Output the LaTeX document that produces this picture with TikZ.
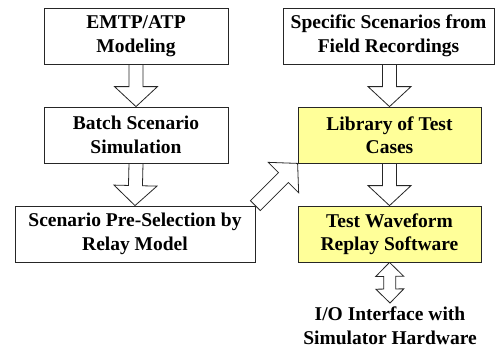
\documentclass[tikz,border=0pt]{standalone}
\usepackage{fontspec}
\setmainfont{Liberation Serif}
\usetikzlibrary{calc,backgrounds}

\definecolor{boxyellow}{RGB}{255,255,153}

% block arrow sizes
\def\basw{7pt}   % half shaft width
\def\bahw{21.5pt}% half head width
\def\bahl{20pt}  % head length
\def\dasw{6pt}
\def\dahw{14pt}
\def\dahl{14pt}

% single block arrow from #1 (tail) to #2 (tip)
\newcommand\blkarrow[2]{%
  \coordinate (ba-h) at ($(#2)!\bahl!(#1)$);
  \draw[blockarrow] ($(#1)!\basw!90:(#2)$) -- ($(ba-h)!\basw!90:(#2)$)
    -- ($(ba-h)!\bahw!90:(#2)$) -- (#2) -- ($(ba-h)!\bahw!-90:(#2)$)
    -- ($(ba-h)!\basw!-90:(#2)$) -- ($(#1)!\basw!-90:(#2)$) -- cycle;
}
% double-headed block arrow between #1 and #2
\newcommand\dblarrow[2]{%
  \coordinate (da-a) at ($(#1)!\dahl!(#2)$);
  \coordinate (da-b) at ($(#2)!\dahl!(#1)$);
  \draw[blockarrow] (#1) -- ($(da-a)!\dahw!90:(#2)$) -- ($(da-a)!\dasw!90:(#2)$)
    -- ($(da-b)!\dasw!90:(#2)$) -- ($(da-b)!\dahw!90:(#2)$) -- (#2)
    -- ($(da-b)!\dahw!-90:(#2)$) -- ($(da-b)!\dasw!-90:(#2)$)
    -- ($(da-a)!\dasw!-90:(#2)$) -- ($(da-a)!\dahw!-90:(#2)$) -- cycle;
}

\tikzset{
  labelfont/.style={font=\fontsize{19.5}{23.5}\selectfont\bfseries},
  blockarrow/.style={draw=black!85, line width=0.8pt, fill=white, line join=miter},
  stage/.style={draw=black!85, line width=0.8pt, fill=white, minimum height=56pt,
    inner sep=0pt, align=center, labelfont},
  hilite/.style={stage, fill=boxyellow},
}

\begin{document}
\begin{tikzpicture}[x=1pt, y=-1pt]
\useasboundingbox (0,0) rectangle (500,354);

% left column: simulation path
\node[stage, minimum width=184pt] (emtp) at (136,36) {EMTP/ATP\\Modeling};
\node[stage, minimum width=184pt] (batch) at (136,135) {Batch Scenario\\Simulation};
\node[stage, minimum width=240pt] (presel) at (135,234) {Scenario Pre-Selection by\\Relay Model};

% right column: field data and replay
\node[stage, minimum width=211pt] (field) at (388.5,36) {Specific Scenarios from\\Field Recordings};
\node[hilite, minimum width=183pt] (library) at (389.5,135) {Library of Test\\Cases};
\node[hilite, minimum width=183pt] (replay) at (389.5,234) {Test Waveform\\Replay Software};
\node[anchor=north, inner xsep=0pt, inner ysep=4pt, align=center, labelfont]
      (io) at (390,303) {I/O Interface with\\Simulator Hardware};

% connectors drawn behind the boxes
\begin{scope}[on background layer]
  \blkarrow{emtp.south}{batch.north}
  \blkarrow{batch.south}{presel.north}
  \blkarrow{presel.north east}{library.south west}
  \blkarrow{field.south -| library.north}{library.north}
  \blkarrow{library.south}{replay.north}
  \dblarrow{replay.south}{io.north}
\end{scope}
\end{tikzpicture}
\end{document}
